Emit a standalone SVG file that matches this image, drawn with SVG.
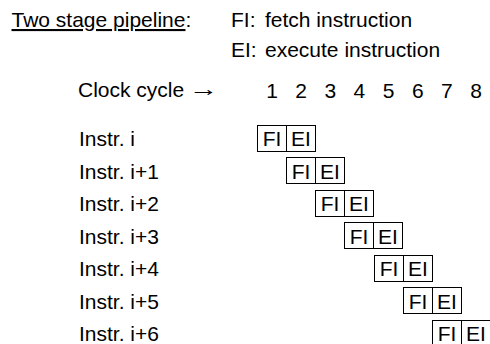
<svg xmlns="http://www.w3.org/2000/svg" width="490" height="344" viewBox="0 0 490 344">
<style>
text{font-family:"Liberation Sans",Arial,sans-serif;font-size:21px;fill:#000}
.c{text-anchor:middle}
.box{fill:#fff;stroke:#000;stroke-width:1}
</style>
<rect width="490" height="344" fill="#fff"/>
<g id="header">
<text x="11.5" y="27"><tspan text-decoration="underline">Two stage pipeline</tspan>:</text>
<text x="231" y="27">FI:<tspan x="265">fetch instruction</tspan></text>
<text x="231" y="57">EI:<tspan x="265">execute instruction</tspan></text>
<text x="78" y="97">Clock cycle</text>
<text transform="translate(189,95.5) scale(1.4,1)">→</text>
</g>
<g id="cycles">
<text class="c" x="272" y="97.5">1</text>
<text class="c" x="301.15" y="97.5">2</text>
<text class="c" x="330.3" y="97.5">3</text>
<text class="c" x="359.45" y="97.5">4</text>
<text class="c" x="388.6" y="97.5">5</text>
<text class="c" x="417.75" y="97.5">6</text>
<text class="c" x="446.9" y="97.5">7</text>
<text class="c" x="476.05" y="97.5">8</text>
</g>
<g id="instr0">
<text x="79" y="146">Instr. i</text>
<rect class="box" x="257.5" y="125.5" width="29" height="26"/>
<rect class="box" x="286.5" y="125.5" width="29" height="26"/>
<text class="c" x="272" y="146">FI</text>
<text class="c" x="301" y="146">EI</text>
</g>
<g id="instr1">
<text x="79" y="178.5">Instr. i+1</text>
<rect class="box" x="286.5" y="157.5" width="29" height="26"/>
<rect class="box" x="315.5" y="157.5" width="29" height="26"/>
<text class="c" x="301" y="178.5">FI</text>
<text class="c" x="330" y="178.5">EI</text>
</g>
<g id="instr2">
<text x="79" y="211">Instr. i+2</text>
<rect class="box" x="315.5" y="190.5" width="29" height="26"/>
<rect class="box" x="344.5" y="190.5" width="29" height="26"/>
<text class="c" x="330" y="211">FI</text>
<text class="c" x="359" y="211">EI</text>
</g>
<g id="instr3">
<text x="79" y="243.5">Instr. i+3</text>
<rect class="box" x="344.5" y="222.5" width="29" height="26"/>
<rect class="box" x="373.5" y="222.5" width="29" height="26"/>
<text class="c" x="359" y="243.5">FI</text>
<text class="c" x="388" y="243.5">EI</text>
</g>
<g id="instr4">
<text x="79" y="276">Instr. i+4</text>
<rect class="box" x="374.5" y="255.5" width="29" height="26"/>
<rect class="box" x="403.5" y="255.5" width="29" height="26"/>
<text class="c" x="389" y="276">FI</text>
<text class="c" x="418" y="276">EI</text>
</g>
<g id="instr5">
<text x="79" y="308.5">Instr. i+5</text>
<rect class="box" x="403.5" y="287.5" width="29" height="26"/>
<rect class="box" x="432.5" y="287.5" width="29" height="26"/>
<text class="c" x="418" y="308.5">FI</text>
<text class="c" x="447" y="308.5">EI</text>
</g>
<g id="instr6">
<text x="79" y="341">Instr. i+6</text>
<rect class="box" x="432.5" y="320.5" width="29" height="26"/>
<rect class="box" x="461.5" y="320.5" width="29" height="26"/>
<text class="c" x="447" y="341">FI</text>
<text class="c" x="476" y="341">EI</text>
</g>
</svg>
